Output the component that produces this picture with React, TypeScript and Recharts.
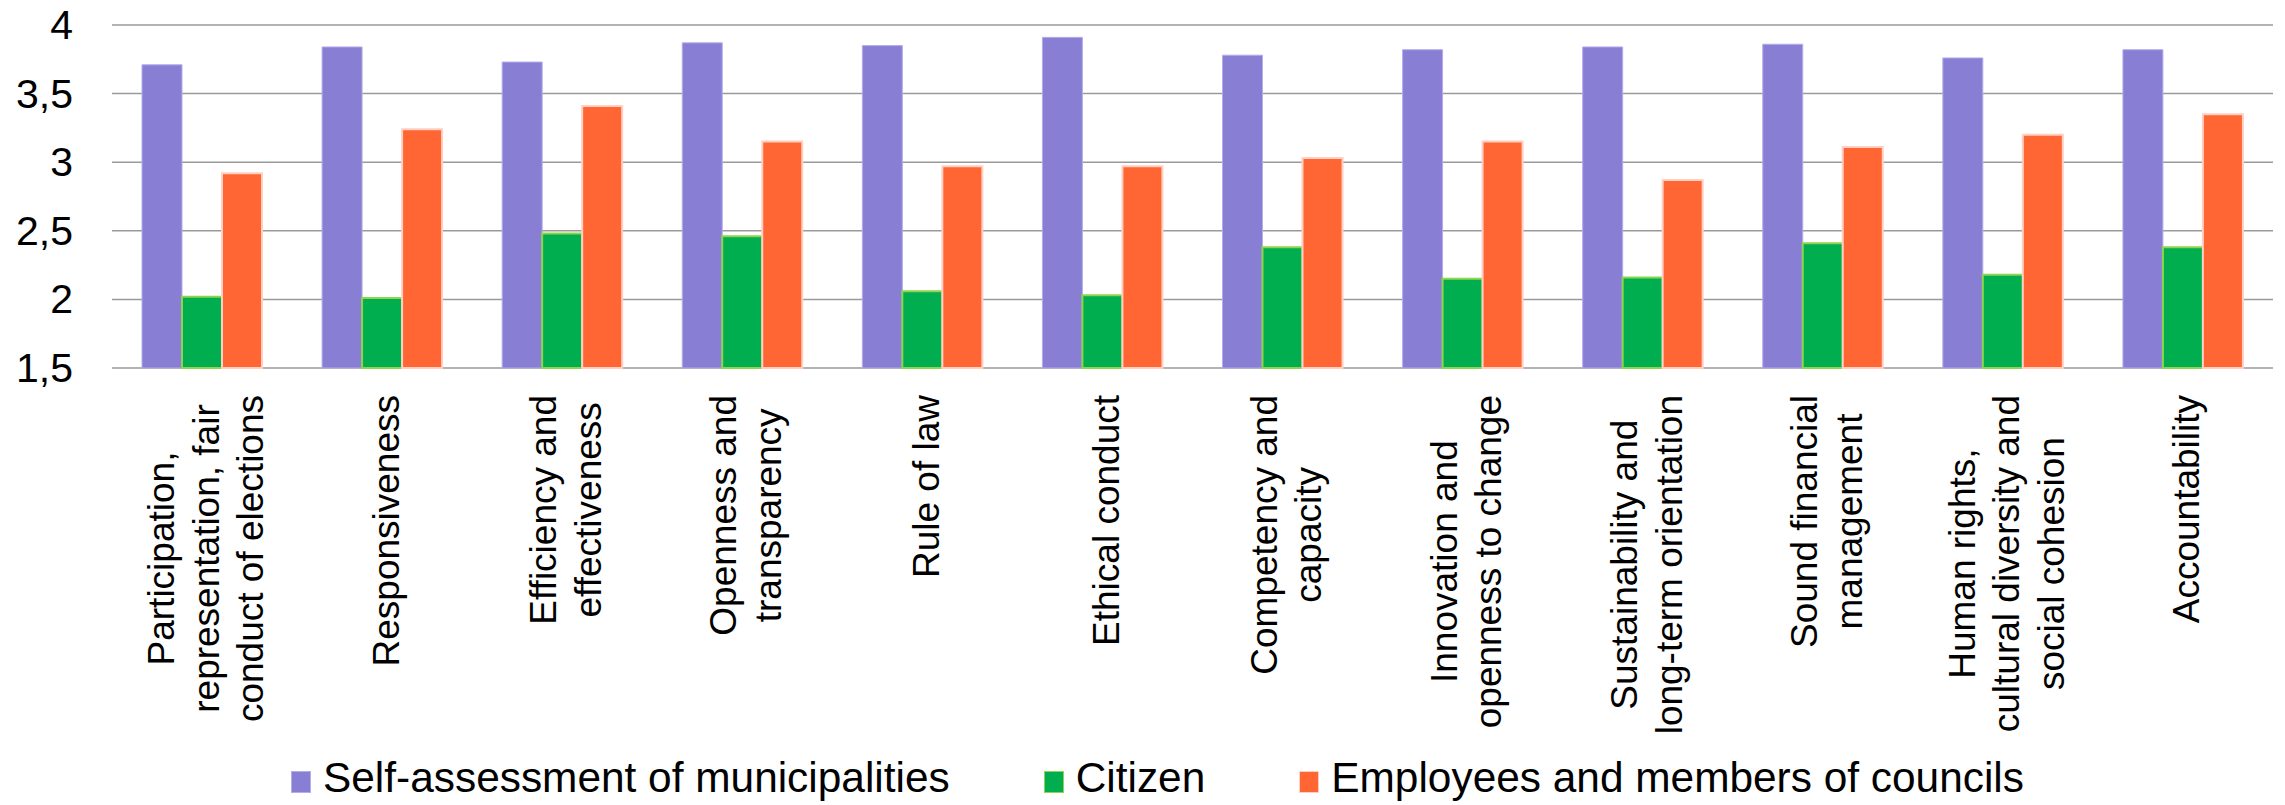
import React from 'react';
import { BarChart, Bar, XAxis, YAxis, CartesianGrid, Legend } from 'recharts';

const categories = [
  'Participation,\nrepresentation, fair\nconduct of elections',
  'Responsiveness',
  'Efficiency and\neffectiveness',
  'Openness and\ntransparency',
  'Rule of law',
  'Ethical conduct',
  'Competency and\ncapacity',
  'Innovation and\nopenness to change',
  'Sustainability and\nlong-term orientation',
  'Sound financial\nmanagement',
  'Human rights,\ncultural diversity and\nsocial cohesion',
  'Accountability',
];

const selfAssessment = [3.71, 3.84, 3.73, 3.87, 3.85, 3.91, 3.78, 3.82, 3.84, 3.86, 3.76, 3.82];
const citizen = [2.02, 2.01, 2.48, 2.46, 2.06, 2.03, 2.38, 2.15, 2.16, 2.41, 2.18, 2.38];
const employees = [2.92, 3.24, 3.41, 3.15, 2.97, 2.97, 3.03, 3.15, 2.87, 3.11, 3.2, 3.35];

const yTicks = [1.5, 2, 2.5, 3, 3.5, 4];

const seriesNames = [
  'Self-assessment of municipalities',
  'Citizen',
  'Employees and members of councils',
];

const data = categories.map((name, i) => ({
  name,
  self: selfAssessment[i],
  citizen: citizen[i],
  employees: employees[i],
}));

const FONT = '"Liberation Sans", Arial, sans-serif';
const LABEL_SIZE = 37;
const LINE_HEIGHT = 44.6;

let ctx: CanvasRenderingContext2D | null = null;
const measure = (s: string) => {
  if (!ctx) {
    ctx = document.createElement('canvas').getContext('2d');
  }
  if (!ctx) return s.length * LABEL_SIZE * 0.5;
  ctx.font = `${LABEL_SIZE}px "Liberation Sans"`;
  return ctx.measureText(s).width;
};

const CategoryTick = (props: any) => {
  const { x, y, payload } = props;
  const lines: string[] = String(payload.value).split('\n');
  const maxW = Math.max(...lines.map(measure));
  const n = lines.length;
  return (
    <g transform={`translate(${x},${y}) rotate(-90)`}>
      {lines.map((line, i) => (
        <text
          key={i}
          x={-maxW / 2}
          y={(i - (n - 1) / 2) * LINE_HEIGHT + 4}
          textAnchor="middle"
          dominantBaseline="central"
          fontFamily={FONT}
          fontSize={LABEL_SIZE}
          fill="#000"
        >
          {line}
        </text>
      ))}
    </g>
  );
};

const ValueTick = (props: any) => {
  const { x, y, payload } = props;
  return (
    <text
      x={x}
      y={y}
      textAnchor="end"
      dominantBaseline="central"
      fontFamily={FONT}
      fontSize={41}
      fill="#000"
    >
      {String(payload.value).replace('.', ',')}
    </text>
  );
};

const borders: Record<string, string> = {
  '#887FD5': '#B3ADEA',
  '#00AD4F': '#8ED44E',
  '#FF6633': '#FFD0C2',
};

const LegendContent = (props: any) => {
  const payload = [...(props.payload || [])].sort(
    (a: any, b: any) => seriesNames.indexOf(a.value) - seriesNames.indexOf(b.value)
  );
  return (
    <div style={{ display: 'flex', alignItems: 'center', fontFamily: FONT, fontSize: 42.4, lineHeight: '50px', whiteSpace: 'nowrap' }}>
      {payload.map((entry: any, i: number) => (
        <div key={i} style={{ display: 'flex', alignItems: 'center', marginRight: 94 }}>
          <span
            style={{
              display: 'inline-block',
              width: 18,
              height: 20,
              background: entry.color,
              border: `1px solid ${borders[entry.color] || entry.color}`,
              marginRight: 12,
              position: 'relative',
              top: 4,
            }}
          />
          <span style={{ color: '#000' }}>{entry.value}</span>
        </div>
      ))}
    </div>
  );
};

export default function App() {
  return (
    <div style={{ position: 'absolute', left: 0, top: 0, width: 2285, height: 805, background: '#fff' }}>
      <BarChart
        width={2285}
        height={805}
        data={data}
        margin={{ top: 25, right: 12, left: 0, bottom: 0 }}
        barCategoryGap={30}
        barGap={0}
      >
        <CartesianGrid vertical={false} stroke="#9a9a9a" strokeWidth={1.5} />
        <XAxis
          dataKey="name"
          axisLine={false}
          tickLine={false}
          tickSize={0}
          tickMargin={27}
          height={437}
          interval={0}
          tick={<CategoryTick />}
        />
        <YAxis
          domain={[1.5, 4]}
          ticks={yTicks}
          axisLine={false}
          tickLine={false}
          tickSize={0}
          tickMargin={39}
          width={112}
          tick={<ValueTick />}
        />
        <Legend
          verticalAlign="middle"
          align="center"
          layout="horizontal"
          wrapperStyle={{ top: 753, left: 291, width: 'auto' }}
          content={<LegendContent />}
        />
        <Bar dataKey="self" name={seriesNames[0]} fill="#887FD5" stroke="#B3ADEA" strokeWidth={1} isAnimationActive={false} />
        <Bar dataKey="citizen" name={seriesNames[1]} fill="#00AD4F" stroke="#8ED44E" strokeWidth={2} isAnimationActive={false} />
        <Bar dataKey="employees" name={seriesNames[2]} fill="#FF6633" stroke="#FFD0C2" strokeWidth={2} isAnimationActive={false} />
      </BarChart>
    </div>
  );
}
